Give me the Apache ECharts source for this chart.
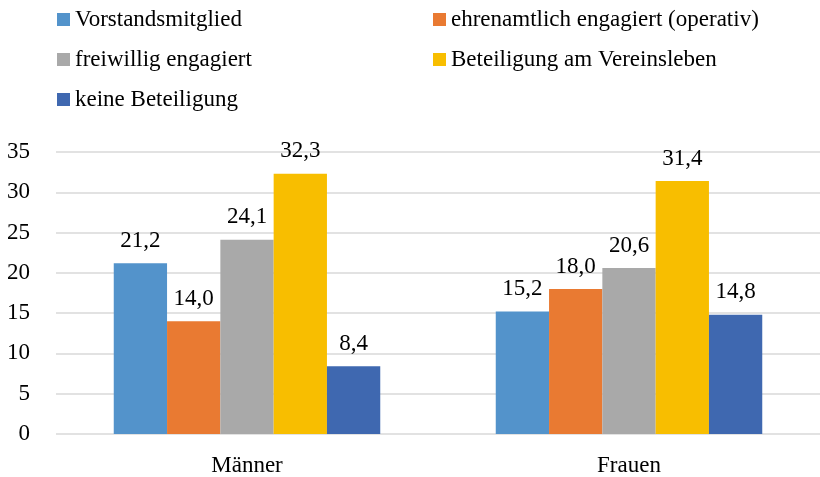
<!DOCTYPE html>
<html>
<head>
<meta charset="utf-8">
<script src="https://cdn.jsdelivr.net/npm/echarts@6/dist/echarts.min.js"></script>
<style>html,body{margin:0;padding:0;background:#fff;}#c{width:820px;height:477px;}</style>
</head>
<body>
<div id="c"></div>
<script>
const categories = ['Männer', 'Frauen'];
const seriesNames = ['Vorstandsmitglied', 'ehrenamtlich engagiert (operativ)', 'freiwillig engagiert', 'Beteiligung am Vereinsleben', 'keine Beteiligung'];
const vorstand = [21.2, 15.2];
const ehrenamt = [14.0, 18.0];
const freiwillig = [24.1, 20.6];
const vereinsleben = [32.3, 31.4];
const keine = [8.4, 14.8];
const yTicks = [0, 5, 10, 15, 20, 25, 30, 35];

const colors = ['#5393CB', '#E97A32', '#A9A9A9', '#F8BE00', '#3F68B0'];
const values = [vorstand, ehrenamt, freiwillig, vereinsleben, keine];
const font = '"Liberation Serif", "Times New Roman", serif';

const legendPos = [
  {left: 52, top: 3}, {left: 428, top: 3},
  {left: 52, top: 43}, {left: 428, top: 43},
  {left: 52, top: 83}
];

const chart = echarts.init(document.getElementById('c'), null, {renderer: 'canvas'});
chart.setOption({
  animation: false,
  textStyle: {fontFamily: font},
  legend: seriesNames.map((n, i) => ({
    data: [n],
    left: legendPos[i].left,
    top: legendPos[i].top,
    itemWidth: 13,
    itemHeight: 13,
    itemGap: 0,
    icon: 'rect',
    textStyle: {fontFamily: font, fontSize: 23, color: '#000', padding: [0, 0, 0, 0]},
    selectedMode: false
  })),
  grid: {left: 56, top: 152, width: 769, height: 283},
  xAxis: {
    type: 'category',
    data: categories,
    axisLine: {show: false},
    axisTick: {show: false},
    axisLabel: {fontFamily: font, fontSize: 23, color: '#000', margin: 20}
  },
  yAxis: {
    type: 'value',
    min: yTicks[0],
    max: yTicks[yTicks.length - 1],
    interval: yTicks[1] - yTicks[0],
    axisLine: {show: false},
    axisTick: {show: false},
    axisLabel: {fontFamily: font, fontSize: 23, color: '#000', margin: 26},
    splitLine: {lineStyle: {color: '#D9D9D9', width: 1.5}}
  },
  series: seriesNames.map((n, i) => ({
    name: n,
    type: 'bar',
    data: values[i],
    barWidth: 53.3,
    barGap: '0%',
    itemStyle: {color: colors[i]},
    label: {
      show: true,
      position: 'top',
      distance: 11,
      fontFamily: font,
      fontSize: 23,
      color: '#000',
      formatter: p => p.value.toFixed(1).replace('.', ',')
    }
  }))
});
</script>
</body>
</html>
